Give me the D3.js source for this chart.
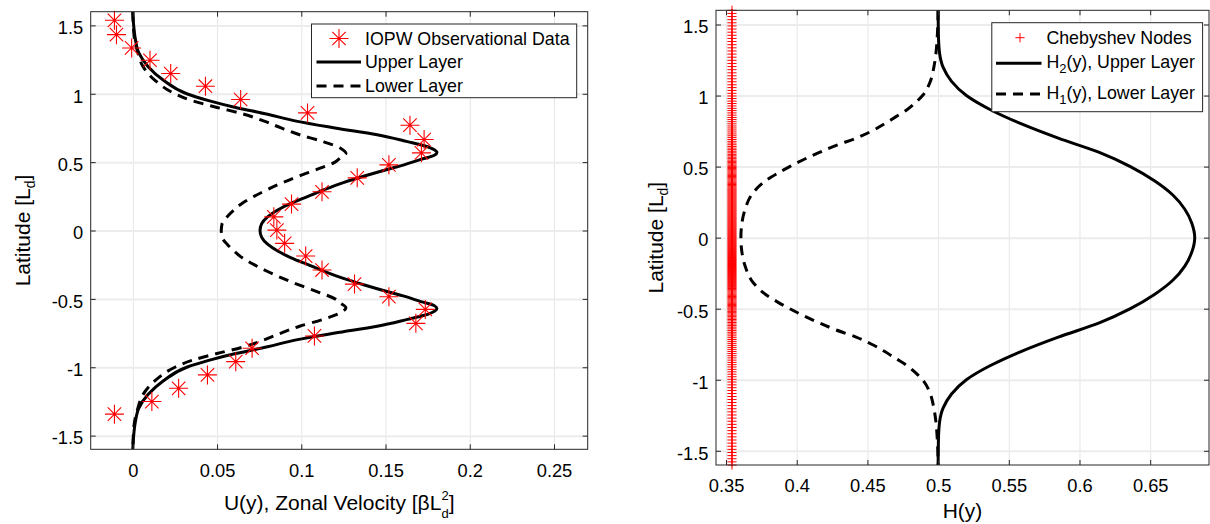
<!DOCTYPE html>
<html>
<head>
<meta charset="utf-8">
<script src="https://cdn.jsdelivr.net/npm/d3@7"></script>
<style>
  body { margin: 0; background: #fff; }
  svg text { font-family: "Liberation Sans", Arial, Helvetica, sans-serif; fill: #000; }
  .grid line { stroke: #e6e6e6; }
  .grid path { display: none; }
  .axis path { display: none; }
  .axis line { stroke: #262626; }
</style>
</head>
<body>
<svg id="chart" width="1210" height="524"></svg>
<script>
// ---- left panel: zonal velocity profiles ----
const upperLat = [1.6, 1.5, 1.4, 1.3, 1.2, 1.1, 1.0, 0.95, 0.9, 0.85, 0.8, 0.75, 0.7, 0.65, 0.62, 0.59, 0.57, 0.55, 0.52, 0.48, 0.45, 0.4, 0.35, 0.3, 0.25, 0.2, 0.15, 0.1, 0.05, 0,
  -0.05, -0.1, -0.15, -0.2, -0.25, -0.3, -0.35, -0.4, -0.45, -0.48, -0.52, -0.55, -0.57, -0.59, -0.62, -0.65, -0.7, -0.75, -0.8, -0.85, -0.9, -0.95, -1.0, -1.1, -1.2, -1.3, -1.4, -1.5, -1.6];
const upperU = [0, 0.0005, 0.0015, 0.0035, 0.009, 0.018, 0.032, 0.045, 0.061, 0.080, 0.097, 0.120, 0.145, 0.163, 0.173, 0.179, 0.1805, 0.179, 0.171, 0.161, 0.152, 0.138, 0.125, 0.114, 0.104, 0.094, 0.086, 0.080, 0.0765, 0.0755,
  0.0765, 0.080, 0.086, 0.094, 0.104, 0.114, 0.125, 0.138, 0.152, 0.161, 0.171, 0.179, 0.1805, 0.179, 0.173, 0.163, 0.145, 0.120, 0.097, 0.080, 0.061, 0.045, 0.032, 0.018, 0.009, 0.0035, 0.0015, 0.0005, 0];

const lowerLat = [1.6, 1.5, 1.4, 1.3, 1.2, 1.1, 1.0, 0.95, 0.9, 0.85, 0.8, 0.75, 0.7, 0.65, 0.6, 0.565, 0.53, 0.5, 0.45, 0.4, 0.35, 0.3, 0.25, 0.2, 0.15, 0.1, 0.05, 0,
  -0.05, -0.1, -0.15, -0.2, -0.25, -0.3, -0.35, -0.4, -0.45, -0.5, -0.53, -0.565, -0.6, -0.65, -0.7, -0.75, -0.8, -0.85, -0.9, -0.95, -1.0, -1.1, -1.2, -1.3, -1.4, -1.5, -1.6];
const lowerU = [0, 0.0003, 0.001, 0.003, 0.006, 0.013, 0.025, 0.035, 0.050, 0.066, 0.078, 0.088, 0.099, 0.113, 0.1235, 0.1265, 0.123, 0.120, 0.110, 0.099, 0.089, 0.080, 0.072, 0.065, 0.060, 0.056, 0.053, 0.0525,
  0.053, 0.056, 0.060, 0.065, 0.072, 0.080, 0.089, 0.099, 0.110, 0.120, 0.123, 0.1265, 0.1235, 0.113, 0.099, 0.088, 0.078, 0.066, 0.050, 0.035, 0.025, 0.013, 0.006, 0.003, 0.001, 0.0003, 0];

// IOPW observations
const obsLat = [1.537, 1.432, 1.335, 1.245, 1.148, 1.055, 0.958, 0.860, 0.770, 0.665, 0.568, 0.480, 0.385, 0.283, 0.193, 0.100, 0.003, -0.094, -0.187,
  -0.289, -0.392, -0.484, -0.577, -0.679, -0.771, -0.861, -0.959, -1.056, -1.154, -1.251, -1.343];
const obsU = [-0.0109, -0.0097, -0.0007, 0.0102, 0.0225, 0.0431, 0.064, 0.1037, 0.1645, 0.1729, 0.1713, 0.152, 0.1332, 0.1123, 0.0942, 0.0837, 0.0855, 0.0901, 0.1026,
  0.1123, 0.1316, 0.152, 0.1736, 0.168, 0.1078, 0.0708, 0.0611, 0.0443, 0.0272, 0.0113, -0.0109];

// ---- right panel: layer thickness ----
const h2Lat = [1.6, 1.5, 1.4, 1.3, 1.2, 1.1, 1.0, 0.9, 0.8, 0.7, 0.6, 0.5, 0.4, 0.3, 0.2, 0.1, 0,
  -0.1, -0.2, -0.3, -0.4, -0.5, -0.6, -0.7, -0.8, -0.9, -1.0, -1.1, -1.2, -1.3, -1.4, -1.5, -1.6];
const h2Val = [0.5, 0.5001, 0.5003, 0.501, 0.5035, 0.5095, 0.520, 0.537, 0.559, 0.585, 0.614, 0.636, 0.653, 0.666, 0.6745, 0.6795, 0.6815,
  0.6795, 0.6745, 0.666, 0.653, 0.636, 0.614, 0.585, 0.559, 0.537, 0.520, 0.5095, 0.5035, 0.501, 0.5003, 0.5001, 0.5];

const h1Lat = [1.6, 1.5, 1.4, 1.3, 1.2, 1.1, 1.0, 0.95, 0.9, 0.85, 0.8, 0.75, 0.7, 0.65, 0.6, 0.55, 0.5, 0.45, 0.4, 0.3, 0.2, 0.1, 0,
  -0.1, -0.2, -0.3, -0.4, -0.45, -0.5, -0.55, -0.6, -0.65, -0.7, -0.75, -0.8, -0.85, -0.9, -0.95, -1.0, -1.1, -1.2, -1.3, -1.4, -1.5, -1.6];
const h1Val = [0.5, 0.4998, 0.4993, 0.4985, 0.497, 0.4945, 0.489, 0.484, 0.478, 0.470, 0.462, 0.453, 0.442, 0.428, 0.416, 0.405, 0.395, 0.386, 0.378, 0.368, 0.3635, 0.3612, 0.3605,
  0.3612, 0.3635, 0.368, 0.378, 0.386, 0.395, 0.405, 0.416, 0.428, 0.442, 0.453, 0.462, 0.470, 0.478, 0.484, 0.489, 0.4945, 0.497, 0.4985, 0.4993, 0.4998, 0.5];

// collocation grid, all drawn at one H value
const nodeH = 0.3542;
const nodeLat = [
  1.600, 1.578, 1.556, 1.534, 1.512, 1.490, 1.468, 1.446, 1.424, 1.402, 1.380, 1.358, 1.336, 1.314, 1.292, 1.270, 1.248, 1.226, 1.204, 1.182, 1.160, 1.139, 1.118, 1.097, 1.076, 1.056, 1.036, 1.016,
  0.997, 0.979, 0.961, 0.944, 0.927, 0.910, 0.894, 0.878, 0.862, 0.846, 0.831, 0.816, 0.801, 0.786, 0.772, 0.758, 0.744, 0.730, 0.717, 0.704, 0.691, 0.678, 0.666, 0.654, 0.642, 0.630, 0.619, 0.608, 0.597, 0.586, 0.576, 0.566, 0.556, 0.546, 0.537, 0.528, 0.519, 0.510, 0.502,
  0.494, 0.486, 0.478, 0.470, 0.462, 0.454, 0.446, 0.438, 0.430, 0.422, 0.414, 0.406, 0.398, 0.390, 0.382, 0.374, 0.366, 0.358, 0.350, 0.343, 0.336, 0.329, 0.322, 0.315, 0.308, 0.301, 0.294, 0.287, 0.280, 0.273, 0.266, 0.259, 0.252, 0.245, 0.238, 0.231, 0.224, 0.217, 0.210, 0.203, 0.196, 0.189, 0.182, 0.175, 0.168, 0.161, 0.154, 0.147, 0.140, 0.133, 0.126, 0.119, 0.112, 0.105, 0.098, 0.091, 0.084, 0.077, 0.070, 0.063, 0.056, 0.049, 0.042, 0.035, 0.028, 0.021, 0.014, 0.007, 0.000,
  -0.007, -0.014, -0.021, -0.028, -0.035, -0.042, -0.049, -0.056, -0.063, -0.070, -0.077, -0.084, -0.091, -0.098, -0.105, -0.112, -0.119, -0.126, -0.133, -0.140, -0.147, -0.154, -0.161, -0.168, -0.175, -0.182, -0.189, -0.196, -0.203, -0.210, -0.217, -0.224, -0.231, -0.238, -0.245, -0.252, -0.259, -0.266, -0.273, -0.280, -0.287, -0.294, -0.301, -0.308, -0.315, -0.322, -0.329, -0.336, -0.343, -0.350, -0.358, -0.366, -0.374, -0.382, -0.390, -0.398, -0.406, -0.414, -0.422, -0.430, -0.438, -0.446, -0.454, -0.462, -0.470, -0.478, -0.486, -0.494,
  -0.502, -0.510, -0.519, -0.528, -0.537, -0.546, -0.556, -0.566, -0.576, -0.586, -0.597, -0.608, -0.619, -0.630, -0.642, -0.654, -0.666, -0.678, -0.691, -0.704, -0.717, -0.730, -0.744, -0.758, -0.772, -0.786, -0.801, -0.816, -0.831, -0.846, -0.862, -0.878, -0.894, -0.910, -0.927, -0.944, -0.961, -0.979, -0.997,
  -1.016, -1.036, -1.056, -1.076, -1.097, -1.118, -1.139, -1.160, -1.182, -1.204, -1.226, -1.248, -1.270, -1.292, -1.314, -1.336, -1.358, -1.380, -1.402, -1.424, -1.446, -1.468, -1.490, -1.512, -1.534, -1.556, -1.578, -1.600];

// ticks
const latTicks = [-1.5, -1, -0.5, 0, 0.5, 1, 1.5];
const latTickLabels = ["-1.5", "-1", "-0.5", "0", "0.5", "1", "1.5"];
const uTicks = [0, 0.05, 0.1, 0.15, 0.2, 0.25];
const uTickLabels = ["0", "0.05", "0.1", "0.15", "0.2", "0.25"];
const hTicks = [0.35, 0.4, 0.45, 0.5, 0.55, 0.6, 0.65];
const hTickLabels = ["0.35", "0.4", "0.45", "0.5", "0.55", "0.6", "0.65"];

const svg = d3.select("#chart");
const RED = "#ff0000";
const TICK_FONT = 18.3;
const LABEL_FONT = 21;
const LEGEND_FONT = 17.8;

// star marker ('*') and plus marker ('+') as plain stroke paths
function starPath(r) {
  const d = r * Math.SQRT1_2;
  return `M${-r},0H${r}M0,${-r}V${r}M${-d},${-d}L${d},${d}M${-d},${d}L${d},${-d}`;
}
function plusPath(r) {
  return `M${-r},0H${r}M0,${-r}V${r}`;
}

function makePanel(cfg) {
  const x = d3.scaleLinear().domain(cfg.xDomain).range([cfg.left, cfg.right]);
  const y = d3.scaleLinear().domain([-1.6, 1.6]).range([cfg.bottom, cfg.top]);
  const w = cfg.right - cfg.left, h = cfg.bottom - cfg.top;
  const g = svg.append("g");

  // grid
  g.append("g").attr("class", "grid")
    .attr("transform", `translate(0,${cfg.bottom})`)
    .call(d3.axisBottom(x).tickValues(cfg.xTicks).tickSize(-h).tickFormat(""))
    .selectAll("line").attr("stroke-width", 1);
  g.append("g").attr("class", "grid")
    .attr("transform", `translate(${cfg.left},0)`)
    .call(d3.axisLeft(y).tickValues(latTicks).tickSize(-w).tickFormat(""))
    .selectAll("line").attr("stroke-width", 2).style("stroke", "#ececec");

  const clipId = "clip-" + cfg.id;
  svg.append("clipPath").attr("id", clipId)
    .append("rect").attr("x", cfg.left).attr("y", cfg.top).attr("width", w).attr("height", h);

  return { g, x, y, clipId };
}

function addAxes(p, cfg) {
  const { g, x, y } = p;
  const w = cfg.right - cfg.left, h = cfg.bottom - cfg.top;

  g.append("rect")
    .attr("x", cfg.left).attr("y", cfg.top).attr("width", w).attr("height", h)
    .attr("fill", "none").attr("stroke", "#262626").attr("stroke-width", 1);

  const fmtX = (d) => cfg.xTickLabels[cfg.xTicks.indexOf(d)];
  const fmtY = (d) => latTickLabels[latTicks.indexOf(d)];

  g.append("g").attr("class", "axis")
    .attr("transform", `translate(0,${cfg.bottom})`)
    .call(d3.axisBottom(x).tickValues(cfg.xTicks).tickSize(-5).tickFormat(fmtX))
    .selectAll("text")
    .attr("y", cfg.xTickBase).attr("dy", 0)
    .style("font-size", TICK_FONT + "px");
  g.append("g").attr("class", "axis")
    .attr("transform", `translate(0,${cfg.top})`)
    .call(d3.axisTop(x).tickValues(cfg.xTicks).tickSize(-5).tickFormat(""));
  g.append("g").attr("class", "axis")
    .attr("transform", `translate(${cfg.left},0)`)
    .call(d3.axisLeft(y).tickValues(latTicks).tickSize(-5).tickFormat(fmtY))
    .selectAll("text")
    .attr("x", -7.5).attr("dy", 8.3)
    .style("font-size", TICK_FONT + "px");
  g.append("g").attr("class", "axis")
    .attr("transform", `translate(${cfg.right},0)`)
    .call(d3.axisRight(y).tickValues(latTicks).tickSize(-5).tickFormat(""));

  // y label
  const yl = g.append("text")
    .attr("transform", `translate(${cfg.yLabelX},${(cfg.top + cfg.bottom) / 2}) rotate(-90)`)
    .attr("text-anchor", "middle")
    .style("font-size", LABEL_FONT + "px");
  yl.append("tspan").text("Latitude [L");
  yl.append("tspan").attr("dy", 5).style("font-size", "14px").text("d");
  yl.append("tspan").attr("dy", -5).text("]");
}

// ---------- left panel ----------
const leftCfg = {
  id: "u", left: 90.7, right: 587.7, top: 11.7, bottom: 449.3,
  xDomain: [-0.025, 0.27], xTicks: uTicks, xTickLabels: uTickLabels,
  xTickBase: 28, yLabelX: 30
};
const pu = makePanel(leftCfg);

const lineU = d3.line()
  .x(d => pu.x(d[0])).y(d => pu.y(d[1]))
  .curve(d3.curveMonotoneY);

pu.g.append("path")
  .datum(upperU.map((u, i) => [u, upperLat[i]]))
  .attr("d", lineU)
  .attr("clip-path", `url(#${pu.clipId})`)
  .attr("fill", "none").attr("stroke", "#000").attr("stroke-width", 3);

pu.g.append("path")
  .datum(lowerU.map((u, i) => [u, lowerLat[i]]))
  .attr("d", lineU)
  .attr("clip-path", `url(#${pu.clipId})`)
  .attr("fill", "none").attr("stroke", "#000").attr("stroke-width", 3)
  .attr("stroke-dasharray", "10,7");

pu.g.append("g").selectAll("path")
  .data(obsU.map((u, i) => [u, obsLat[i]]))
  .join("path")
  .attr("transform", d => `translate(${pu.x(d[0])},${pu.y(d[1])})`)
  .attr("d", starPath(9.5))
  .attr("fill", "none").attr("stroke", RED).attr("stroke-width", 1.1);

addAxes(pu, leftCfg);

// x label, the "2" sits over the "d"
const xlU = pu.g.append("text")
  .attr("x", (leftCfg.left + leftCfg.right) / 2).attr("y", 510)
  .attr("text-anchor", "middle")
  .style("font-size", LABEL_FONT + "px");
xlU.append("tspan").text("U(y), Zonal Velocity [\u03b2L");
xlU.append("tspan").attr("dy", -10).style("font-size", "13px").text("2");
xlU.append("tspan").attr("dx", -7.2).attr("dy", 18).style("font-size", "13px").text("d");
xlU.append("tspan").attr("dy", -8).text("]");

// legend (left)
const lgL = pu.g.append("g");
lgL.append("rect").attr("x", 311.5).attr("y", 24).attr("width", 265.2).attr("height", 73.7)
  .attr("fill", "#fff").attr("stroke", "#262626").attr("stroke-width", 1);
lgL.append("path").attr("transform", "translate(339,38.5)").attr("d", starPath(9.5))
  .attr("fill", "none").attr("stroke", RED).attr("stroke-width", 1.1);
lgL.append("line").attr("x1", 316.5).attr("x2", 361).attr("y1", 62).attr("y2", 62)
  .attr("stroke", "#000").attr("stroke-width", 3);
lgL.append("line").attr("x1", 316.5).attr("x2", 361).attr("y1", 86).attr("y2", 86)
  .attr("stroke", "#000").attr("stroke-width", 3).attr("stroke-dasharray", "10,7");
[["IOPW Observational Data", 45], ["Upper Layer", 68.3], ["Lower Layer", 91.7]].forEach(([t, yb]) => {
  lgL.append("text").attr("x", 365).attr("y", yb).style("font-size", LEGEND_FONT + "px").text(t);
});

// ---------- right panel ----------
const rightCfg = {
  id: "h", left: 716, right: 1209, top: 10.3, bottom: 465,
  xDomain: [0.3429, 0.6916], xTicks: hTicks, xTickLabels: hTickLabels,
  xTickBase: 27, yLabelX: 663
};
const ph = makePanel(rightCfg);

const lineH = d3.line()
  .x(d => ph.x(d[0])).y(d => ph.y(d[1]))
  .curve(d3.curveMonotoneY);

ph.g.append("g").selectAll("path")
  .data(nodeLat)
  .join("path")
  .attr("transform", d => `translate(${ph.x(nodeH)},${ph.y(d)})`)
  .attr("d", plusPath(4.6))
  .attr("fill", "none").attr("stroke", RED).attr("stroke-width", 1);

ph.g.append("path")
  .datum(h2Val.map((v, i) => [v, h2Lat[i]]))
  .attr("d", lineH)
  .attr("clip-path", `url(#${ph.clipId})`)
  .attr("fill", "none").attr("stroke", "#000").attr("stroke-width", 3);

ph.g.append("path")
  .datum(h1Val.map((v, i) => [v, h1Lat[i]]))
  .attr("d", lineH)
  .attr("clip-path", `url(#${ph.clipId})`)
  .attr("fill", "none").attr("stroke", "#000").attr("stroke-width", 3)
  .attr("stroke-dasharray", "10,7");

addAxes(ph, rightCfg);

ph.g.append("text")
  .attr("x", (rightCfg.left + rightCfg.right) / 2).attr("y", 518)
  .attr("text-anchor", "middle")
  .style("font-size", LABEL_FONT + "px")
  .text("H(y)");

// legend (right)
const lgR = ph.g.append("g");
lgR.append("rect").attr("x", 991.8).attr("y", 22.7).attr("width", 210.8).attr("height", 89)
  .attr("fill", "#fff").attr("stroke", "#262626").attr("stroke-width", 1);
lgR.append("path").attr("transform", "translate(1020,37.7)").attr("d", plusPath(4.6))
  .attr("fill", "none").attr("stroke", RED).attr("stroke-width", 1);
lgR.append("line").attr("x1", 996).attr("x2", 1041.5).attr("y1", 63.3).attr("y2", 63.3)
  .attr("stroke", "#000").attr("stroke-width", 3);
lgR.append("line").attr("x1", 996).attr("x2", 1041.5).attr("y1", 94).attr("y2", 94)
  .attr("stroke", "#000").attr("stroke-width", 3).attr("stroke-dasharray", "10,7");
lgR.append("text").attr("x", 1046.4).attr("y", 44).style("font-size", LEGEND_FONT + "px").text("Chebyshev Nodes");
[["2", "(y), Upper Layer", 68.3], ["1", "(y), Lower Layer", 99]].forEach(([sub, rest, yb]) => {
  const t = lgR.append("text").attr("x", 1046.4).attr("y", yb).style("font-size", LEGEND_FONT + "px");
  t.append("tspan").text("H");
  t.append("tspan").attr("dy", 5).style("font-size", "13px").text(sub);
  t.append("tspan").attr("dy", -5).text(rest);
});
</script>
</body>
</html>
